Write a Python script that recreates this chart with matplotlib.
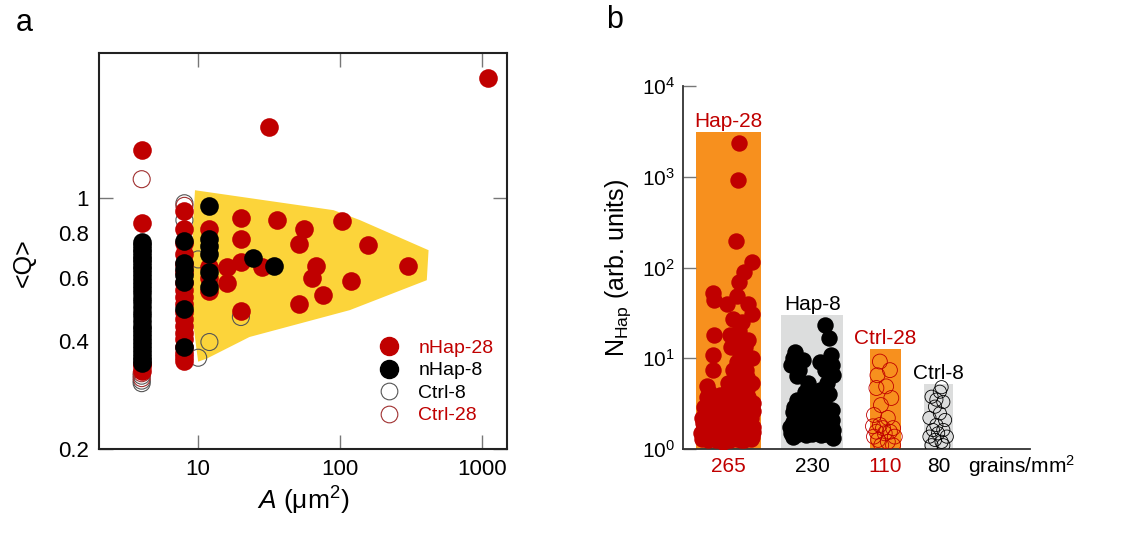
import numpy as np
import matplotlib
matplotlib.use('Agg')
import matplotlib.pyplot as plt
from matplotlib.lines import Line2D
from matplotlib.ticker import FixedLocator, NullFormatter, FixedFormatter

plt.rcParams['font.family'] = ['Liberation Sans', 'DejaVu Sans']
plt.rcParams['mathtext.fontset'] = 'custom'
plt.rcParams['mathtext.rm'] = 'Liberation Sans'
plt.rcParams['mathtext.it'] = 'Liberation Sans:italic'

RED = '#c00000'
ORANGE = '#f7901e'
GREY_BAR = '#dcdddd'
YELLOW = '#fcd43a'

# ---- panel a data: grain area A (um^2) vs <Q> ----
nhap28_A = [1108, 31.8, 4, 4, 4, 4, 4,
            8, 8, 8, 8, 8, 8, 8, 8, 8, 8, 8, 8, 8, 8, 8, 8, 8, 8, 8,
            12, 12, 12, 12,
            20, 20, 20, 20, 15.9, 15.9, 28, 35.7, 55.7, 51.7, 51.7,
            67.7, 63.5, 75.5, 103, 119, 158, 300]
nhap28_Q = [2.15, 1.57, 1.36, 0.849, 0.33, 0.34, 0.345,
            0.92, 0.82, 0.75, 0.70, 0.655, 0.62, 0.58, 0.555, 0.53, 0.505,
            0.48, 0.46, 0.44, 0.42, 0.405, 0.385, 0.37, 0.36, 0.352,
            0.82, 0.64, 0.60, 0.55,
            0.88, 0.77, 0.661, 0.484, 0.642, 0.58, 0.642, 0.867, 0.817,
            0.742, 0.505, 0.645, 0.60, 0.536, 0.863, 0.586, 0.738, 0.647]

nhap8_A = [4] * 32 + [8, 8, 8, 8, 8, 8, 8] + [12, 12, 12, 12, 12, 12] + [24.2, 34]
nhap8_Q = [0.752, 0.738, 0.722, 0.707, 0.69, 0.676, 0.661, 0.645, 0.632,
           0.617, 0.601, 0.588, 0.571, 0.556, 0.542, 0.526, 0.512, 0.497,
           0.482, 0.468, 0.453, 0.441, 0.431, 0.42, 0.409, 0.399, 0.389,
           0.379, 0.37, 0.361, 0.353, 0.347,
           0.76, 0.66, 0.635, 0.61, 0.585, 0.49, 0.385,
           0.95, 0.77, 0.735, 0.70, 0.62, 0.565,
           0.68, 0.647]

ctrl8_A = [4, 4, 4, 8, 8, 10, 10, 12, 20]
ctrl8_Q = [0.305, 0.31, 0.32, 0.966, 0.867, 0.674, 0.359, 0.397, 0.466]
ctrl28_A = [4, 4, 4, 8]
ctrl28_Q = [1.127, 0.315, 0.325, 0.95]

band_A = [9.5, 90, 138, 420, 408, 117, 23, 11.5, 10, 9.2, 9.0, 9.2]
band_Q = [1.05, 0.924, 0.867, 0.715, 0.59, 0.487, 0.41, 0.357, 0.35, 0.45, 0.60, 0.85]

# ---- panel b data ----
groups = ['Hap-28', 'Hap-8', 'Ctrl-28', 'Ctrl-8']
bar_tops = [3100, 30, 12.6, 5.2]
densities = ['265', '230', '110', '80']

hap28_x = [1.605, 1.59, 1.52, 1.97, 1.75, 1.61, 0.85, 0.885, 1.54, 1.25, 1.87,
           1.97, 1.44, 0.885, 1.35, 1.87, 1.39, 0.865, 1.97, 1.63, 0.865, 1.82,
           0.67, 1.97, 1.54, 1.25, 0.67, 1.87, 0.96, 2.0, 1.44, 0.67, 1.05,
           1.82, 0.57, 1.25, 1.67, 2.0, 0.52, 0.96, 1.44, 1.97, 0.72, 1.15,
           1.67, 1.05, 0.67, 1.44, 1.44, 1.63, 1.29, 1.79, 0.96, 1.54,
           0.55, 0.75, 0.95, 1.15, 1.35, 1.55, 1.75, 1.95,
           0.6, 0.8, 1.0, 1.2, 1.4, 1.6, 1.8, 2.0,
           0.55, 0.75, 1.1, 1.3, 1.5, 1.7, 1.95,
           0.6, 0.85, 1.1, 1.3, 1.6, 1.8, 2.0,
           0.75, 1.05, 1.7, 1.85, 1.6, 1.85, 1.55, 1.75, 1.45, 1.6, 1.7]
hap28_n = [2340, 925, 198, 116, 90, 70, 52, 44, 48, 40, 40,
           31, 27, 18, 18, 16, 13.4, 10.9, 10, 11.4, 7.4, 7.4,
           4.9, 5.3, 4.5, 4.28, 3.77, 3.77, 3.47, 3.19, 2.93, 2.47, 2.27,
           2.27, 1.92, 1.92, 2.0, 1.76, 1.49, 1.49, 1.43, 1.37, 1.26, 1.2,
           1.26, 1.62, 1.8, 3.77, 7.4, 5.8, 5.3, 13.4, 2.47, 2.47,
           1.3, 1.35, 1.25, 1.3, 1.25, 1.3, 1.25, 1.3,
           1.7, 1.65, 1.75, 1.7, 1.75, 1.65, 1.7, 1.55,
           2.2, 2.1, 2.2, 2.3, 2.1, 2.3, 2.2,
           2.9, 3.0, 2.7, 3.2, 3.0, 2.8, 2.6,
           4.2, 3.9, 4.2, 4.6, 6.5, 6.2, 9.0, 9.5, 16, 20, 25]

hap8_x = [4.10, 4.21, 3.22, 3.46, 3.12, 3.94, 4.28, 4.32, 3.27, 3.6, 4.15,
          3.84, 3.46, 3.17, 4.15, 3.55, 4.28, 3.07, 3.74, 3.36, 4.32, 3.17,
          3.98, 4.32, 3.55, 3.74, 3.27, 3.94,
          3.1, 3.3, 3.5, 3.7, 3.9, 4.1, 4.3,
          3.15, 3.4, 3.6, 3.85, 4.05, 4.25,
          3.2, 3.45, 3.65, 3.9, 4.1, 4.3,
          3.5, 3.75, 3.95, 4.2, 3.35, 3.15, 4.25, 4.1]
hap8_n = [23.3, 16.6, 11.8, 9.6, 8.4, 9.2, 8.4, 6.5, 6.3, 5.3, 5.3,
          4.1, 3.19, 2.58, 2.69, 2.27, 2.09, 1.76, 1.84, 1.62, 1.62, 1.37,
          1.43, 1.31, 1.43, 2.47, 3.47, 3.19,
          1.5, 1.45, 1.5, 1.45, 1.5, 1.45, 1.5,
          2.0, 2.1, 1.9, 2.0, 2.2, 1.9,
          2.9, 2.6, 2.8, 2.6, 3.0, 2.7,
          4.2, 3.5, 4.5, 4.0, 7.5, 10, 11, 7.5]

ctrl28_x = [5.67, 5.96, 5.6, 5.85, 5.57, 6.0, 5.7, 5.5, 5.9, 5.67, 6.05,
            5.57, 5.81, 6.1, 5.62, 5.9, 5.71, 6.05, 5.5, 5.96, 5.76, 5.47]
ctrl28_n = [9.2, 7.4, 6.5, 4.9, 4.7, 3.65, 3.05, 2.37, 2.2, 1.84, 1.7,
            1.55, 1.49, 1.37, 1.26, 1.2, 1.1, 1.1, 1.37, 1.55, 1.7, 1.78]

ctrl8_x = [7.40, 7.16, 7.5, 7.26, 7.4, 7.1, 7.55, 7.3, 7.2, 7.5, 7.35,
           7.1, 7.6, 7.26, 7.45, 7.16, 7.5, 7.3, 7.45]
ctrl8_n = [4.28, 3.77, 3.3, 2.93, 2.47, 2.2, 2.09, 1.84, 1.62, 1.62, 1.49,
           1.37, 1.37, 1.26, 1.2, 1.1, 1.1, 3.5, 4.8]

# layout of the bars on panel b (arbitrary x units)
bar_centers = [1.30, 3.72, 5.83, 7.36]
bar_widths = [1.89, 1.79, 0.90, 0.84]
bar_colors = [ORANGE, GREY_BAR, ORANGE, GREY_BAR]
text_colors = [RED, 'black', RED, 'black']

fig = plt.figure(figsize=(11.22, 5.38), dpi=100)

# ================= panel a =================
ax = fig.add_axes([0.0882, 0.1654, 0.3637, 0.7361])
ax.set_xscale('log')
ax.set_yscale('log')
ax.fill(band_A, band_Q, color=YELLOW, lw=0, zorder=1)
ax.scatter(ctrl8_A, ctrl8_Q, s=150, facecolors='none', edgecolors='#555555',
           linewidths=0.8, zorder=2)
ax.scatter(ctrl28_A, ctrl28_Q, s=150, facecolors='none', edgecolors='#a03030',
           linewidths=0.8, zorder=2)
ax.scatter(nhap28_A, nhap28_Q, s=180, color=RED, lw=0, zorder=3)
ax.scatter(nhap8_A, nhap8_Q, s=180, color='black', lw=0, zorder=4)

ax.set_xlim(2.0, 1500)
ax.set_ylim(0.2, 2.53)

ax.xaxis.set_major_locator(FixedLocator([10, 100, 1000]))
ax.xaxis.set_major_formatter(FixedFormatter(['10', '100', '1000']))
ax.xaxis.set_minor_locator(FixedLocator([]))
ax.yaxis.set_major_locator(FixedLocator([0.2, 1]))
ax.yaxis.set_major_formatter(FixedFormatter(['0.2', '1']))
ax.yaxis.set_minor_locator(FixedLocator([0.4, 0.6, 0.8]))
ax.yaxis.set_minor_formatter(FixedFormatter(['0.4', '0.6', '0.8']))
ax.tick_params(which='major', direction='in', length=10, width=1, color='#777777',
               top=True, right=True, labelsize=16, pad=7)
ax.tick_params(which='minor', length=0, labelsize=16, pad=7)
for sp in ax.spines.values():
    sp.set_linewidth(1.5)
    sp.set_color('#222222')

ax.set_xlabel(r'$\mathit{A}$ (μm$^{2}$)', fontsize=19, labelpad=4)
ax.set_ylabel('<Q>', fontsize=18)
ax.yaxis.set_label_coords(-0.155, 0.47)

handles = [
    Line2D([], [], ls='none', marker='o', ms=13, mfc=RED, mec=RED),
    Line2D([], [], ls='none', marker='o', ms=13, mfc='black', mec='black'),
    Line2D([], [], ls='none', marker='o', ms=12, mfc='none', mec='#555555', mew=0.8),
    Line2D([], [], ls='none', marker='o', ms=12, mfc='none', mec='#a03030', mew=0.8),
]
leg = ax.legend(handles, ['nHap-28', 'nHap-8', 'Ctrl-8', 'Ctrl-28'],
                loc='lower right', bbox_to_anchor=(1.0, 0.028), frameon=False,
                fontsize=14, handletextpad=0.5, labelspacing=0.25,
                borderaxespad=0.3)
for t, c in zip(leg.get_texts(), [RED, 'black', 'black', RED]):
    t.set_color(c)

fig.text(0.022, 0.958, 'a', fontsize=22, ha='center', va='center')

# ================= panel b =================
bx = fig.add_axes([0.609, 0.1654, 0.309, 0.6747])
bx.set_yscale('log')
bx.bar(bar_centers, bar_tops, width=bar_widths, color=bar_colors, zorder=1)
bx.scatter(hap28_x, hap28_n, s=140, color=RED, lw=0, zorder=3)
bx.scatter(hap8_x, hap8_n, s=140, color='black', lw=0, zorder=3)
bx.scatter(ctrl28_x, ctrl28_n, s=115, facecolors='none', edgecolors=RED,
           linewidths=0.6, zorder=3)
bx.scatter(ctrl8_x, ctrl8_n, s=90, facecolors='none', edgecolors='black',
           linewidths=0.6, zorder=3)

for xc, top, name, col in zip(bar_centers, bar_tops, groups, text_colors):
    bx.annotate(name, (xc, top), xytext=(0, 1), textcoords='offset points',
                ha='center', va='bottom', fontsize=15, color=col)

bx.set_xlim(0, 10)
bx.set_ylim(1, 1e4)
bx.set_xticks(bar_centers)
bx.set_xticklabels(densities)
for lab, col in zip(bx.get_xticklabels(), text_colors):
    lab.set_color(col)
bx.tick_params(axis='x', length=0, labelsize=15, pad=6)
bx.yaxis.set_major_locator(FixedLocator([1, 10, 100, 1000, 10000]))
bx.yaxis.set_major_formatter(FixedFormatter([r'$\mathregular{10^{%d}}$' % k for k in range(5)]))
bx.yaxis.set_minor_locator(FixedLocator([]))
bx.yaxis.set_minor_formatter(NullFormatter())
bx.tick_params(axis='y', direction='in', length=9, width=1, color='#777777',
               labelsize=15, pad=6)
bx.spines['top'].set_visible(False)
bx.spines['right'].set_visible(False)
for sp in ('left', 'bottom'):
    bx.spines[sp].set_linewidth(1.3)
    bx.spines[sp].set_color('#333333')
bx.text(8.2, -0.047, 'grains/mm$^{2}$', transform=bx.get_xaxis_transform(),
        ha='left', va='center', fontsize=15)
bx.set_ylabel(r'N$_{\mathregular{Hap}}$ (arb. units)', fontsize=18, labelpad=6)

fig.text(0.548, 0.962, 'b', fontsize=22, ha='center', va='center')

fig.savefig('out.png', dpi=100)
